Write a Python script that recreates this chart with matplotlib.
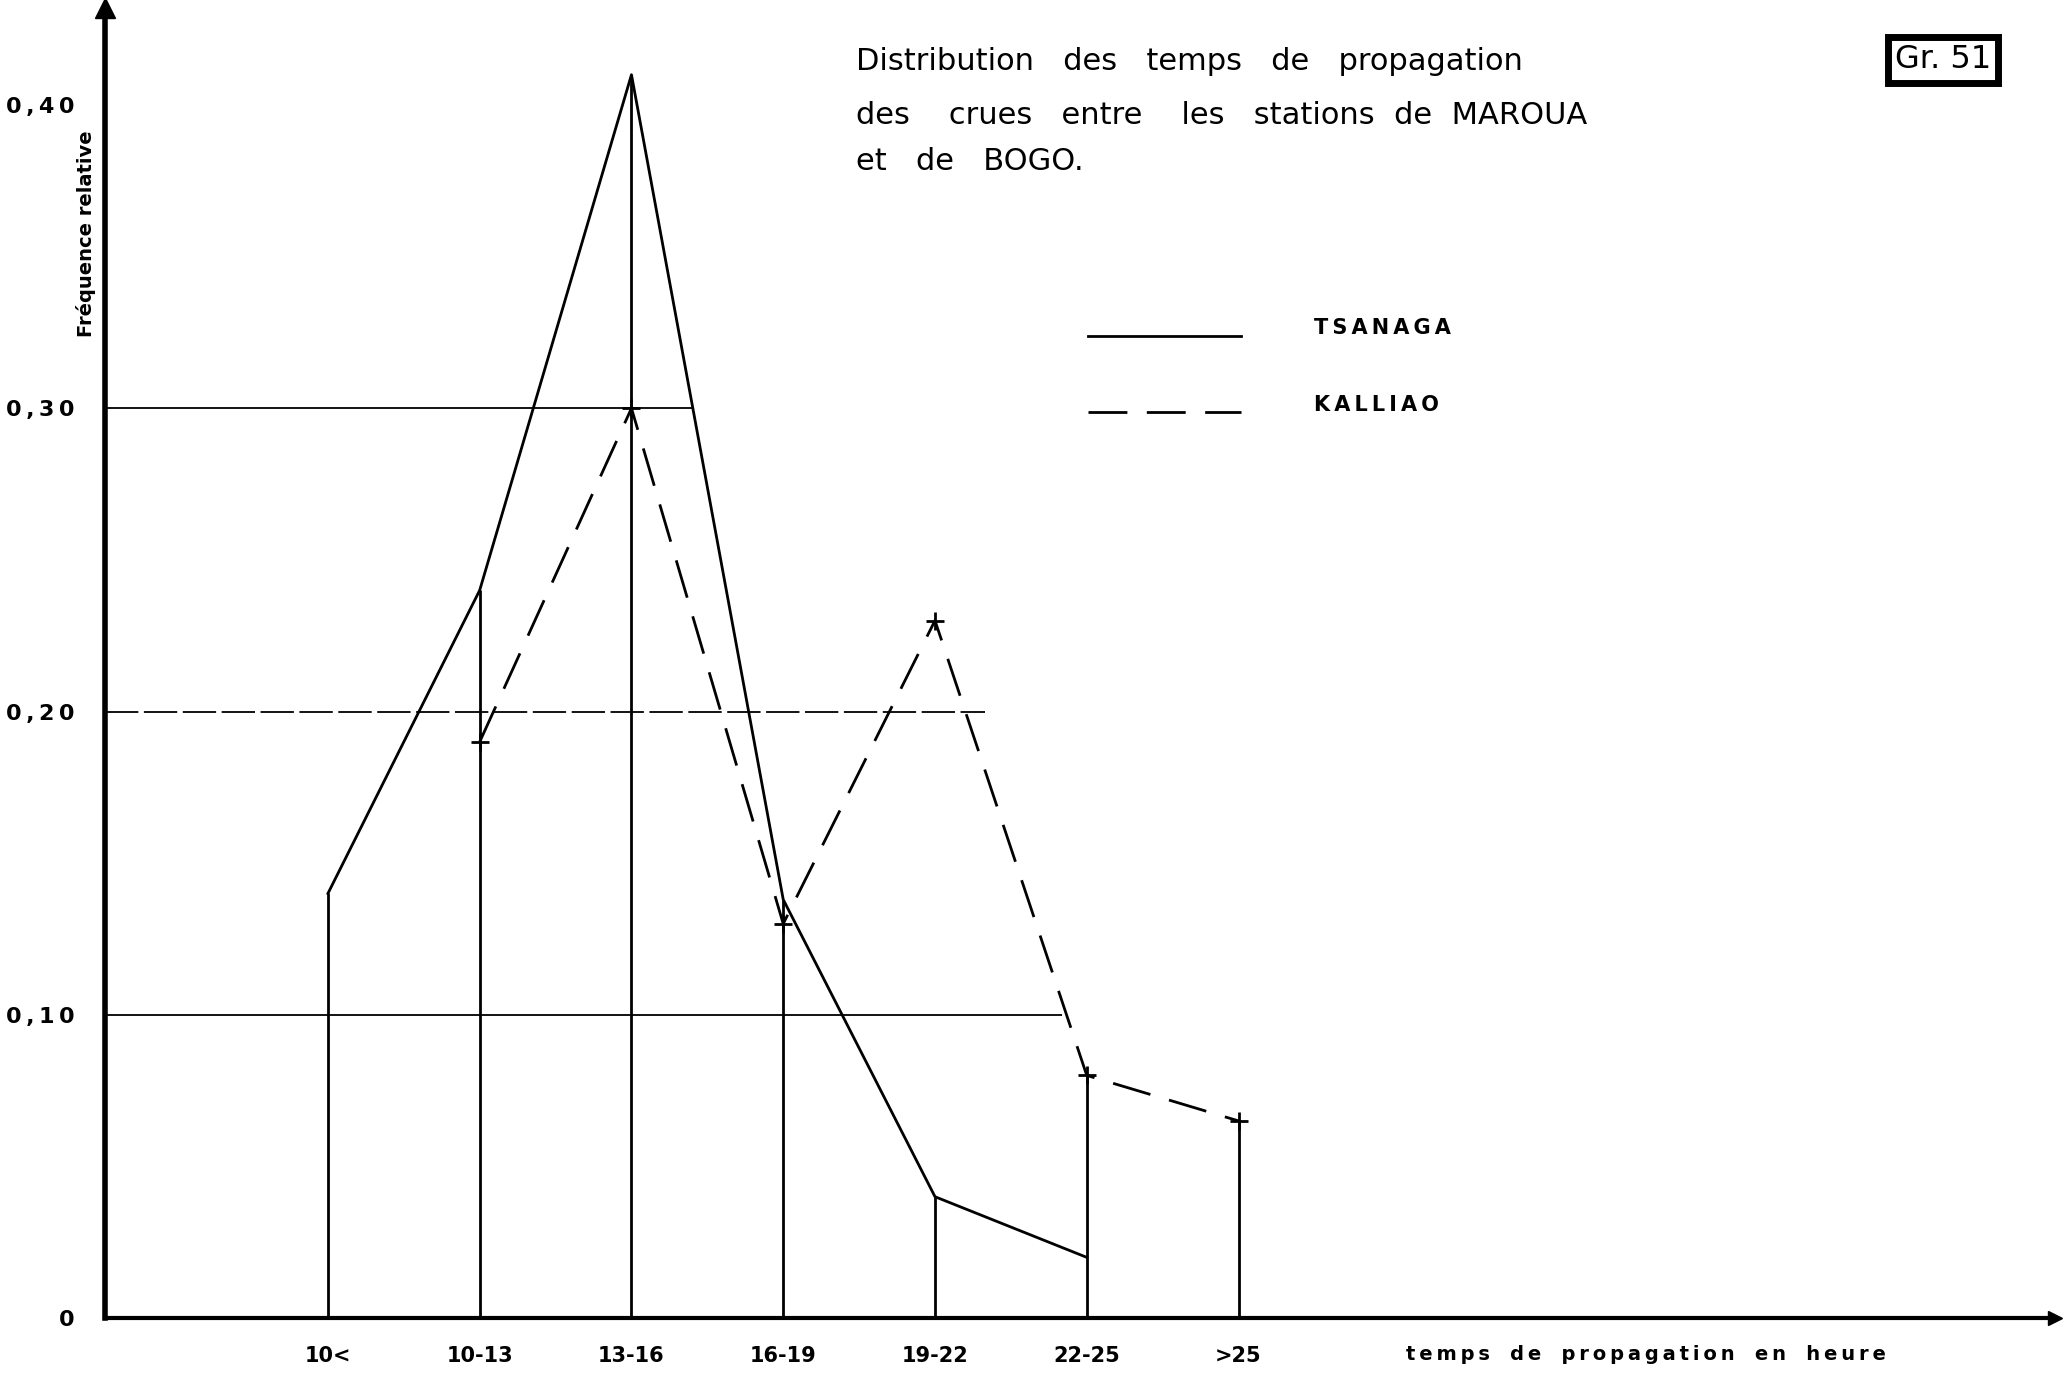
import matplotlib
matplotlib.use("Agg")
import matplotlib.pyplot as plt
import numpy as np

categories = ["10<", "10-13", "13-16", "16-19", "19-22", "22-25", ">25"]
tsanaga = [0.14, 0.24, 0.41, 0.138, 0.04, 0.02, None]
kalliao = [None, 0.19, 0.30, 0.13, 0.23, 0.08, 0.065]
drop_heights = [0.14, 0.24, 0.41, 0.138, 0.04, 0.08, 0.065]
yticks = [0, 0.10, 0.20, 0.30, 0.40]
ytick_labels = ["0", "0,10", "0,20", "0,30", "0,40"]
title_lines = ["Distribution   des   temps   de   propagation",
               "des    crues   entre    les   stations  de  MAROUA",
               "et   de   BOGO."]
xlabel = "temps de propagation en heure"
ylabel = "Fréquence relative"
series_names = ["TSANAGA", "KALLIAO"]


def spaced(s, word_gap="   ", sep="\u2009"):
    return word_gap.join(sep.join(w) for w in s.split(" "))


plt.rcParams['lines.scale_dashes'] = False
plt.rcParams['font.family'] = ['DejaVu Sans']

W, H = 2066, 1384
fig = plt.figure(figsize=(W / 100, H / 100), dpi=100)
ax = fig.add_axes([105 / W, (H - 1318) / H, (2055 - 105) / W, (1318 - 8) / H])
ax.set_xlim(-1.469, 11.38)
ax.set_ylim(0, 0.432)

x = np.arange(len(categories))

# partial horizontal guide lines
ax.hlines(0.30, -1.469, 2.41, color='black', lw=1.3)
ax.hlines(0.20, -1.469, 4.33, color='black', lw=1.3, linestyles=(0, (24, 4)))
ax.hlines(0.10, -1.469, 4.84, color='black', lw=1.3)

# drop lines
ax.vlines(x, 0, drop_heights, color='black', lw=2)

# series
tx = [xi for xi, v in zip(x, tsanaga) if v is not None]
ty = [v for v in tsanaga if v is not None]
kx = [xi for xi, v in zip(x, kalliao) if v is not None]
ky = [v for v in kalliao if v is not None]
ax.plot(tx, ty, color='black', lw=2)
ax.plot(kx, ky, color='black', lw=2, dashes=(28, 14), marker='+', markersize=13,
        markeredgewidth=2)

# axes styling
for s in ['top', 'right']:
    ax.spines[s].set_visible(False)
ax.spines['left'].set_linewidth(4)
ax.spines['bottom'].set_linewidth(3)
ax.plot(0, 1, '^k', transform=ax.transAxes, clip_on=False, markersize=14)
ax.plot(1, 0, '>k', transform=ax.transAxes, clip_on=False, markersize=10)

ax.set_yticks(yticks)
ax.set_yticklabels([spaced(t) for t in ytick_labels], fontsize=16, fontweight='bold')
ax.tick_params(axis='y', length=0, pad=22)
ax.set_xticks(x)
ax.set_xticklabels(categories, fontsize=15, fontweight='bold')
ax.tick_params(axis='x', length=0, pad=20)

fig.text(1646 / W, 1 - 1354 / H, spaced(xlabel, "   "), fontsize=14,
         fontweight='bold', ha='center', va='center')
fig.text(86 / W, 1 - 234 / H, ylabel, fontsize=14, fontweight='bold',
         rotation=90, ha='center', va='center')

# title
for line, yy in zip(title_lines, [62, 116, 161]):
    fig.text(856 / W, 1 - yy / H, line, fontsize=22, ha='left', va='center')

# legend
fig.add_artist(plt.Line2D([1088 / W, 1241 / W], [1 - 336 / H, 1 - 336 / H], color='black', lw=2))
fig.add_artist(plt.Line2D([1088 / W, 1241 / W], [1 - 412 / H, 1 - 412 / H], color='black', lw=2,
                          dashes=(28, 14)))
fig.text(1314 / W, 1 - 328 / H, spaced(series_names[0]), fontsize=15, fontweight='bold', va='center')
fig.text(1314 / W, 1 - 405 / H, spaced(series_names[1]), fontsize=15, fontweight='bold', va='center')

# Gr. 51 tag
fig.text(1943 / W, 1 - 60 / H, "Gr. 51", fontsize=23, ha='center', va='center',
         bbox=dict(boxstyle='square,pad=0.22', fc='white', ec='black', lw=5))

fig.savefig("out.png", dpi=100, facecolor='white')
